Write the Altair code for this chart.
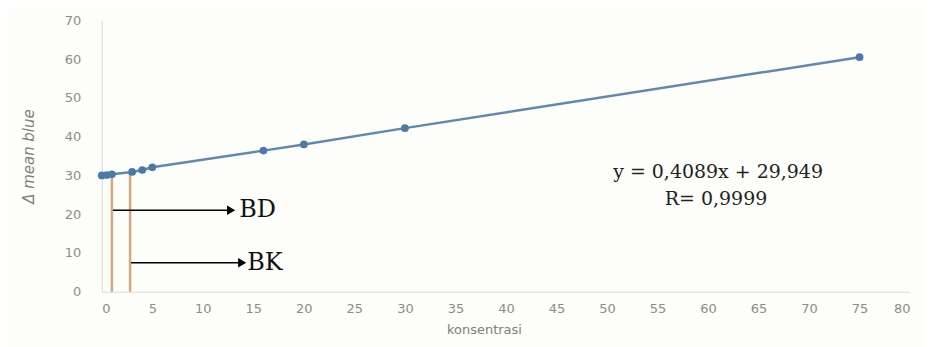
import altair as alt
import pandas as pd

# data points (konsentrasi vs delta mean blue)
conc = [0, 0.5, 1, 3, 4, 5, 16, 20, 30, 75]
blue = [30.0, 30.1, 30.3, 30.9, 31.4, 32.1, 36.4, 38.0, 42.2, 60.5]

# limit markers (vertical lines) BD and BK
limit_x = [1.0, 2.8]
limit_top = [30.3, 31.0]

# arrows
arrow_x0 = [1.1, 2.9]
arrow_x1 = [12.8, 13.9]
arrow_y = [21.0, 7.5]
arrow_label = ["BD", "BK"]
label_x = [13.6, 14.4]

# equation text
eq_text = ["y = 0,4089x + 29,949", "R= 0,9999"]
eq_x = [61.0, 60.8]
eq_y = [31.0, 24.0]

pts = pd.DataFrame({"x": conc, "y": blue})
lim = pd.DataFrame({"x": limit_x, "y0": [0, 0], "y1": limit_top})
arr = pd.DataFrame({"x0": arrow_x0, "x1": arrow_x1, "y": arrow_y,
                    "label": arrow_label, "lx": label_x})
eq = pd.DataFrame({"t": eq_text, "x": eq_x, "y": eq_y})

xs = alt.Scale(domain=[0, 80], nice=False, zero=False)
ys = alt.Scale(domain=[0, 70], nice=False)

xaxis = alt.Axis(values=list(range(0, 81, 5)), title="konsentrasi", grid=False,
                 ticks=False, domainColor="#d9d9d9", labelColor="#8c8c8c",
                 labelFont="DejaVu Sans", labelFontSize=13, labelPadding=11,
                 labelOverlap=False,
                 titleFont="DejaVu Sans", titleFontSize=13, titleFontWeight="normal",
                 titleColor="#7f7f7f", titleX=383, titlePadding=8)
yaxis = alt.Axis(values=list(range(0, 71, 10)), title="Δ mean blue", grid=False,
                 ticks=False, domainColor="#d9d9d9", labelColor="#8c8c8c",
                 labelFont="DejaVu Sans", labelFontSize=13, labelPadding=21,
                 labelOverlap=False,
                 titleFont="DejaVu Sans", titleFontSize=15, titleFontWeight="normal",
                 titleFontStyle="italic", titleColor="#7f7f7f", titlePadding=28)


def X(f):
    return alt.X(f, scale=xs, axis=xaxis)


def Y(f):
    return alt.Y(f, scale=ys, axis=yaxis)


line = alt.Chart(pts).mark_line(color="#5f89b0", strokeWidth=2.5).encode(
    x=X("x:Q"), y=Y("y:Q"))
points = alt.Chart(pts).mark_point(filled=True, color="#4a7aa6", size=60, opacity=1).encode(
    x=X("x:Q"), y=Y("y:Q"))

limits = alt.Chart(lim).mark_rule(color="#d9a57c", strokeWidth=2.5).encode(
    x=X("x:Q"), y=Y("y0:Q"), y2="y1:Q")

arrows = alt.Chart(arr).mark_rule(color="black", strokeWidth=1.5).encode(
    x=X("x0:Q"), x2="x1:Q", y=Y("y:Q"))
heads = alt.Chart(arr).mark_point(shape="triangle-right", filled=True, color="black",
                                  size=90, opacity=1).encode(
    x=X("x1:Q"), y=Y("y:Q"))
labels = alt.Chart(arr).mark_text(align="left", baseline="middle", font="DejaVu Serif",
                                  fontSize=24, color="#111111").encode(
    x=X("lx:Q"), y=Y("y:Q"), text="label:N")

eqs = alt.Chart(eq).mark_text(align="center", baseline="middle", font="DejaVu Serif",
                              fontSize=19, color="#222222").encode(
    x=X("x:Q"), y=Y("y:Q"), text="t:N")

chart = alt.layer(limits, line, points, arrows, heads, labels, eqs).properties(
    width=810, height=272,
    autosize=alt.AutoSizeParams(type="none"),
    padding={"left": 94, "top": 12, "right": 15, "bottom": 55},
    background="#fdfdf9",
).configure_view(stroke=None)

chart.save("out.html", embed_options={"renderer": "svg", "actions": False})
